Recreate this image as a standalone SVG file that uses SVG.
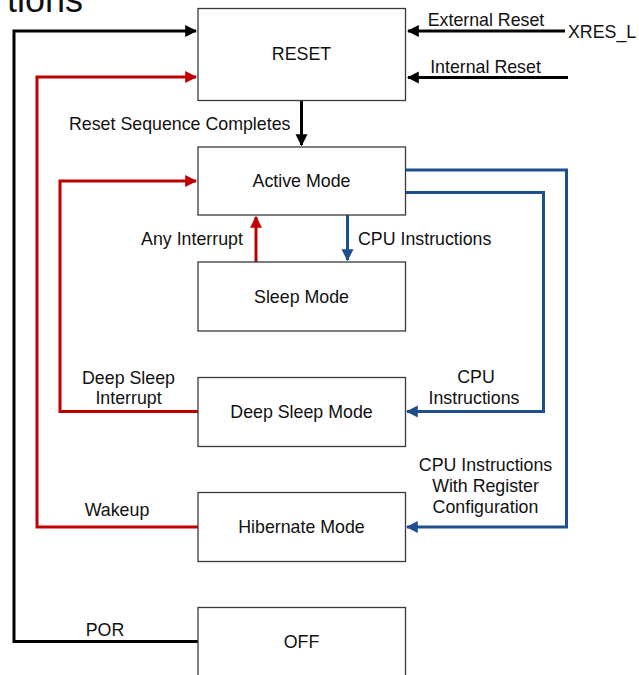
<svg xmlns="http://www.w3.org/2000/svg" width="639" height="675" viewBox="0 0 639 675">
  <defs>
    <marker id="ah-black" viewBox="0 0 10 10" refX="9" refY="5" markerWidth="4" markerHeight="4.4" orient="auto" markerUnits="strokeWidth">
      <path d="M0,0 L10,5 L0,10 z" fill="#000"/>
    </marker>
    <marker id="ah-red" viewBox="0 0 10 10" refX="9" refY="5" markerWidth="4" markerHeight="4.4" orient="auto" markerUnits="strokeWidth">
      <path d="M0,0 L10,5 L0,10 z" fill="#C00000"/>
    </marker>
    <marker id="ah-blue" viewBox="0 0 10 10" refX="9" refY="5" markerWidth="4" markerHeight="4.4" orient="auto" markerUnits="strokeWidth">
      <path d="M0,0 L10,5 L0,10 z" fill="#1F4E8F"/>
    </marker>
  </defs>
  <style>
    text { font-family: "Liberation Sans", Arial, sans-serif; font-size: 17.8px; fill: #111; }
    .c { text-anchor: middle; }
    .box { fill: #fff; stroke: #3a3a3a; stroke-width: 1.3; }
    .k { fill: none; stroke: #000; stroke-width: 3; }
    .r { fill: none; stroke: #C00000; stroke-width: 3; }
    .b { fill: none; stroke: #1F4E8F; stroke-width: 3; }
  </style>
  <rect width="639" height="675" fill="#fff"/>

  <!-- heading, clipped at top edge -->
  <text x="83" y="12" style="font-size:36px; text-anchor:end">tions</text>

  <g id="connectors">
    <!-- POR loop from OFF back to RESET -->
    <path class="k" d="M198,641.5 H14 V31 H196" marker-end="url(#ah-black)"/>
    <!-- Wakeup from Hibernate to RESET -->
    <path class="r" d="M198,527 H37 V77 H196" marker-end="url(#ah-red)"/>
    <!-- Deep sleep interrupt to Active -->
    <path class="r" d="M198,411.5 H60 V181 H196" marker-end="url(#ah-red)"/>
    <!-- External / internal reset -->
    <path class="k" d="M565,31 H408" marker-end="url(#ah-black)"/>
    <path class="k" d="M568,77.5 H408" marker-end="url(#ah-black)"/>
    <!-- Reset sequence completes -->
    <path class="k" d="M301.5,101 V145" marker-end="url(#ah-black)"/>
    <!-- Sleep <-> Active -->
    <path class="r" d="M256,262 V217" marker-end="url(#ah-red)"/>
    <path class="b" d="M347.5,215 V260" marker-end="url(#ah-blue)"/>
    <!-- Active to Deep Sleep / Hibernate -->
    <path class="b" d="M405,192.5 H543.5 V411.5 H407" marker-end="url(#ah-blue)"/>
    <path class="b" d="M405,170 H566.5 V527 H407" marker-end="url(#ah-blue)"/>
  </g>

  <g id="reset">
    <rect class="box" x="198" y="8.5" width="207.5" height="92"/>
    <text class="c" x="301.5" y="60">RESET</text>
  </g>
  <g id="active">
    <rect class="box" x="198" y="147" width="207.5" height="68"/>
    <text class="c" x="301.5" y="187">Active Mode</text>
  </g>
  <g id="sleep">
    <rect class="box" x="198" y="262" width="207.5" height="69"/>
    <text class="c" x="301.5" y="303">Sleep Mode</text>
  </g>
  <g id="deep-sleep">
    <rect class="box" x="198" y="377.5" width="207.5" height="69"/>
    <text class="c" x="301.5" y="418">Deep Sleep Mode</text>
  </g>
  <g id="hibernate">
    <rect class="box" x="198" y="492.5" width="207.5" height="69"/>
    <text class="c" x="301.5" y="533">Hibernate Mode</text>
  </g>
  <g id="off">
    <rect class="box" x="198" y="607.5" width="207.5" height="80"/>
    <text class="c" x="301.5" y="648">OFF</text>
  </g>

  <g id="labels">
    <text class="c" x="486" y="26">External Reset</text>
    <text x="568" y="37.5">XRES_L</text>
    <text class="c" x="485.5" y="72.5">Internal Reset</text>
    <text x="69" y="130">Reset Sequence Completes</text>
    <text class="c" x="192" y="245">Any Interrupt</text>
    <text x="358" y="245">CPU Instructions</text>
    <text class="c" x="128.5" y="384">Deep Sleep</text>
    <text class="c" x="128.5" y="404">Interrupt</text>
    <text class="c" x="476" y="383">CPU</text>
    <text class="c" x="474" y="404">Instructions</text>
    <text class="c" x="485.5" y="471">CPU Instructions</text>
    <text class="c" x="485.5" y="492">With Register</text>
    <text class="c" x="485.5" y="513">Configuration</text>
    <text class="c" x="117" y="516">Wakeup</text>
    <text class="c" x="105" y="636">POR</text>
  </g>
</svg>
